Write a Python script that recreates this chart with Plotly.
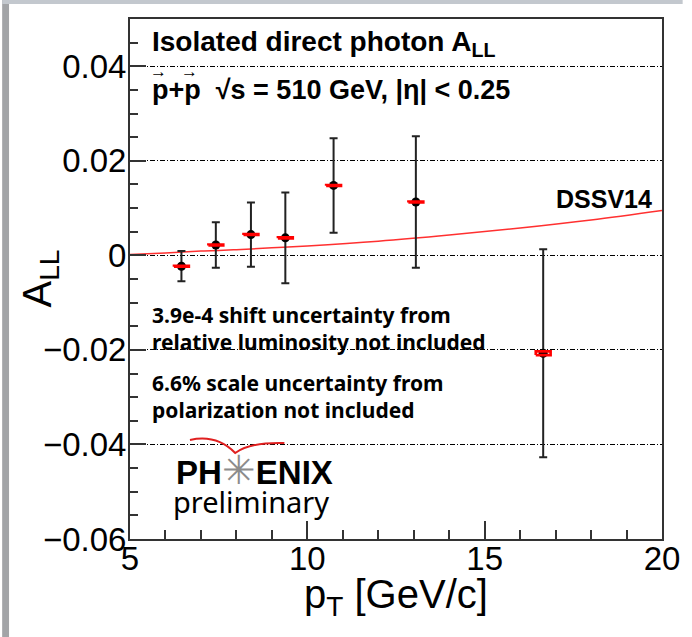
import plotly.graph_objects as go

# Isolated direct photon double-helicity asymmetry, 510 GeV
pt = [6.45, 7.42, 8.41, 9.38, 10.74, 13.06, 16.65]
a_ll = [-0.0023, 0.0022, 0.0044, 0.0037, 0.0148, 0.0113, -0.0207]
stat_err = [0.0032, 0.0048, 0.0068, 0.0096, 0.0100, 0.0139, 0.0220]
syst_err = [0.0001, 0.0001, 0.0001, 0.0001, 0.0001, 0.0001, 0.0004]

# DSSV14 prediction
dssv_pt = [5, 6, 7, 8, 9, 10, 12, 14, 16, 18, 20]
dssv_all = [0.0002, 0.0005, 0.0009, 0.0012, 0.0016, 0.0020, 0.0030, 0.0043, 0.0058, 0.0075, 0.0095]

y_tickvals = [-0.06, -0.04, -0.02, 0, 0.02, 0.04]
y_ticktext = ["\u22120.06", "\u22120.04", "\u22120.02", "0", "0.02", "0.04"]
x_tickvals = [5, 10, 15, 20]
x_ticktext = ["5", "10", "15", "20"]

W, H = 692, 637
L, R, T, B = 130, 21, 19, 98
PW, PH = W - L - R, H - T - B


def px(x):
    return (x - L) / PW


def py(y):
    return 1 - (y - T) / PH


SANS = "Liberation Sans, Arial, sans-serif"
NOTE_FONT = "Noto Sans, Open Sans, sans-serif"

fig = go.Figure()

fig.add_trace(go.Scatter(
    x=dssv_pt, y=dssv_all, mode="lines",
    line=dict(color="#ff3030", width=1.5, shape="spline"),
    hoverinfo="skip", showlegend=False,
))

fig.add_trace(go.Scatter(
    x=pt, y=a_ll, mode="markers",
    marker=dict(color="black", size=9),
    error_y=dict(type="data", array=stat_err, color="#222222", thickness=2, width=4),
    showlegend=False,
))

# systematic boxes
half_w = 0.21
bx, by = [], []
for x, y, s in zip(pt, a_ll, syst_err):
    bx += [x - half_w, x + half_w, x + half_w, x - half_w, x - half_w, None]
    by += [y - s, y - s, y + s, y + s, y - s, None]
fig.add_trace(go.Scatter(
    x=bx, y=by, mode="lines", line=dict(color="#ff0000", width=2.6),
    hoverinfo="skip", showlegend=False,
))

axis_common = dict(
    showline=True, linewidth=2, linecolor="#333333", mirror=True,
    ticks="inside", tickcolor="#333333", tickwidth=1.5,
    zeroline=False, tickfont=dict(family=SANS, size=33, color="black"),
)

fig.update_xaxes(
    range=[5, 20], tickvals=x_tickvals, ticktext=x_ticktext, ticklen=18,
    showgrid=False, ticklabelstandoff=-11,
    minor=dict(dtick=1, tick0=5, ticks="inside", ticklen=9, tickwidth=1.5,
               tickcolor="#333333", showgrid=False),
    **axis_common,
)
fig.update_yaxes(
    range=[-0.06, 0.05], tickvals=y_tickvals, ticktext=y_ticktext, ticklen=16,
    showgrid=True, gridcolor="black", gridwidth=1, griddash="5px,2px,1px,2px",
    ticklabelstandoff=-5,
    minor=dict(dtick=0.005, tick0=0, ticks="inside", ticklen=8, tickwidth=1.5,
               tickcolor="#333333", showgrid=False),
    **axis_common,
)


def note(text, x, y, family, size, bold=True, color="black", **kw):
    fig.add_annotation(
        text=text, xref="paper", yref="paper", x=px(x), y=py(y),
        xanchor=kw.pop("xanchor", "left"), yanchor=kw.pop("yanchor", "top"),
        showarrow=False, align="left",
        font=dict(family=family, size=size, color=color,
                  weight="bold" if bold else "normal"),
        **kw,
    )


note("Isolated direct photon A<sub>LL</sub>", 150, 24, SANS, 28)
note("p+p  \u221as = 510 GeV, |\u03b7| < 0.25", 150, 73, SANS, 27)
# vector arrows over the two protons
note("\u2192", 159, 60, SANS, 17, xanchor="center")
note("\u2192", 191, 60, SANS, 17, xanchor="center")
note("DSSV14", 663, 183, SANS, 25, xanchor="right")
note("3.9e-4 shift uncertainty from<br>relative luminosity not included", 150, 299, NOTE_FONT, 21)
note("6.6% scale uncertainty from<br>polarization not included", 150, 367, NOTE_FONT, 21)
note("PH<span style='color:#8c8c8c;font-weight:normal;font-size:40px'>\u2733</span>ENIX",
     175, 446, SANS, 33)
note("preliminary", 172, 480, NOTE_FONT, 29, bold=False)
note("p<sub>T</sub> [GeV/c]", 400, 570, SANS, 40, bold=False, xanchor="center")
note("A<sub>LL</sub>", 38, 279, SANS, 40, bold=False, xanchor="center",
     yanchor="middle", textangle=-90)

# page border strips and logo swoosh
shapes = [
    dict(type="rect", xref="paper", yref="paper", x0=px(0), x1=px(7), y0=py(H), y1=py(0),
         fillcolor="#a2a4a7", line=dict(width=0), layer="below"),
    dict(type="rect", xref="paper", yref="paper", x0=px(0), x1=px(W), y0=py(4), y1=py(0),
         fillcolor="#c3c8ce", line=dict(width=0), layer="below"),
    dict(type="path", xref="paper", yref="paper",
         path=f"M {px(191)},{py(440)} Q {px(218)},{py(434)} {px(237)},{py(453)} "
              f"Q {px(252)},{py(442)} {px(287)},{py(443)}",
         line=dict(color="#e02020", width=2)),
]
fig.update_layout(
    width=W, height=H, margin=dict(l=L, r=R, t=T, b=B),
    paper_bgcolor="white", plot_bgcolor="white", shapes=shapes,
    showlegend=False,
)

fig.write_html("out.html")
